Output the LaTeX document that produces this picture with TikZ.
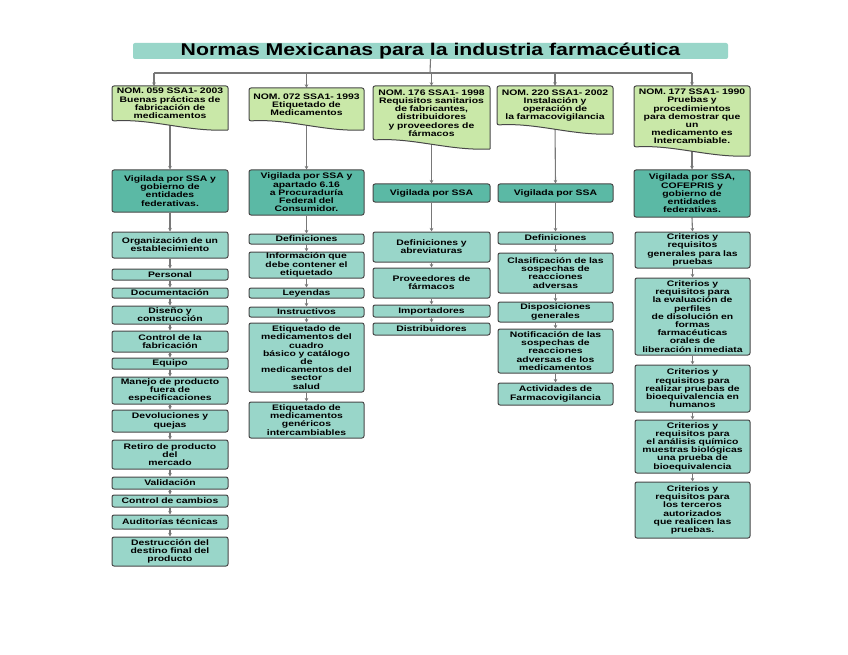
\documentclass[tikz,border=0pt]{standalone}
\usepackage{fontspec}
\setmainfont{Liberation Sans}
\newfontfamily\boxfont[FakeStretch=1.3]{Liberation Sans}
\newfontfamily\titlefont[FakeStretch=1.25]{Liberation Sans}
\usetikzlibrary{arrows.meta,calc}
\pgfdeclarelayer{back}
\pgfdeclarelayer{bg}
\pgfsetlayers{back,bg,main}
\definecolor{lightc}{RGB}{153,214,201}
\definecolor{darkc}{RGB}{91,185,165}
\definecolor{docc}{RGB}{201,232,168}
\definecolor{bordc}{RGB}{72,72,72}
\definecolor{linec}{RGB}{120,120,120}
\tikzset{
  box/.style={draw=bordc, line width=1pt, rounded corners=2pt, fill=lightc, align=center, inner sep=0pt,
    font=\boxfont\bfseries\fontsize{8}{8.2}\selectfont},
  vbox/.style={box, fill=darkc},
  doctext/.style={draw=none, align=center, inner sep=0pt, font=\boxfont\bfseries\fontsize{8}{8.2}\selectfont},
  docshape/.style={draw=bordc, line width=1pt, fill=docc, rounded corners=2pt},
  titlebox/.style={fill=lightc, rounded corners=2pt, inner sep=0pt, font=\titlefont\bfseries\fontsize{17}{17}\selectfont},
  conn/.style={draw=linec, line width=1.1pt},
  arr/.style={conn, -{Stealth[length=3.5pt,width=3.5pt]}},
}
% name, x0, y0, x1, y1, style, text
\newcommand\mybox[7]{%
  \pgfmathsetmacro\bw{#4-#2}\pgfmathsetmacro\bh{#5-#3}\pgfmathsetmacro\tw{#4-#2-4}%
  \node[#6, minimum width=\bw pt, minimum height=\bh pt, text width=\tw pt] (#1) at ({(#2+#4)/2},{(#3+#5)/2}) {#7};}
% name, x0, y0, x1, y1 (lowest), text
\newcommand\mydoc[6]{%
  \pgfmathsetmacro\dw{#4-#2}\pgfmathsetmacro\tw{#4-#2-4}\pgfmathsetmacro\dh{#5-9-#3}%
  \path[docshape] (#4,#5) -- (#4,#3) -- (#2,#3) -- (#2,{#5-9})
    .. controls ({#2+0.35*\dw},{#5-11.5}) and ({#2+0.65*\dw},{#5+2}) .. (#4,#5);
  \node[doctext, minimum width=\dw pt, minimum height=\dh pt, text width=\tw pt] (#1) at ({(#2+#4)/2},{(#3+#5-9)/2}) {#6};}
\begin{document}
\begin{tikzpicture}[x=1pt,y=-1pt]
\begin{pgfonlayer}{back}
\useasboundingbox[fill=white] (0,0) rectangle (848,655);
\end{pgfonlayer}
\node[titlebox, minimum width=595pt, minimum height=16pt] (title) at (430.5,51) {Normas Mexicanas para la industria farmacéutica};
\coordinate (bus) at (430,73);
\coordinate (d1in) at (154,86);
% documents
\mydoc{doc1}{112}{86}{228}{130}{NOM. 059 SSA1- 2003\\Buenas prácticas de\\fabricación de\\medicamentos}
\mydoc{doc2}{249}{88}{364}{130}{NOM. 072 SSA1- 1993\\Etiquetado de\\Medicamentos}
\mydoc{doc3}{373}{86}{490}{149}{NOM. 176 SSA1- 1998\\Requisitos sanitarios\\de fabricantes,\\distribuidores\\y proveedores de\\fármacos}
\mydoc{doc4}{497}{86}{613}{134}{NOM. 220 SSA1- 2002\\Instalación y\\operación de\\la farmacovigilancia}
\mydoc{doc5}{634}{86}{750}{156}{NOM. 177 SSA1- 1990\\Pruebas y\\procedimientos\\para demostrar que\\un\\medicamento es\\Intercambiable.}
% vigilance
\mybox{v1}{112}{170}{228}{212}{vbox}{Vigilada por SSA y\\gobierno de\\entidades\\federativas.}
\mybox{v2}{249}{170}{364}{215}{vbox}{Vigilada por SSA y\\apartado 6.16\\a Procuraduría\\Federal del\\Consumidor.}
\mybox{v3}{373}{184}{490}{202}{vbox}{Vigilada por SSA}
\mybox{v4}{498}{184}{613}{202}{vbox}{Vigilada por SSA}
\mybox{v5}{634}{170}{750}{217}{vbox}{Vigilada por SSA,\\COFEPRIS y\\gobierno de\\entidades\\federativas.}
% column 1
\mybox{c1a}{112}{232}{228}{258}{box}{Organización de un\\establecimiento}
\mybox{c1b}{112}{269}{228}{280}{box}{Personal}
\mybox{c1c}{112}{288}{228}{298}{box}{Documentación}
\mybox{c1d}{112}{306}{228}{324}{box}{Diseño y\\construcción}
\mybox{c1e}{112}{331}{228}{352}{box}{Control de la\\fabricación}
\mybox{c1f}{112}{358}{228}{369}{box}{Equipo}
\mybox{c1g}{112}{377}{228}{404}{box}{Manejo de producto\\fuera de\\especificaciones}
\mybox{c1h}{112}{410}{228}{432}{box}{Devoluciones y\\quejas}
\mybox{c1i}{112}{440}{228}{469}{box}{Retiro de producto\\del\\mercado}
\mybox{c1j}{112}{477}{228}{489}{box}{Validación}
\mybox{c1k}{112}{495}{228}{507}{box}{Control de cambios}
\mybox{c1l}{112}{515}{228}{529}{box}{Auditorías técnicas}
\mybox{c1m}{112}{537}{228}{566}{box}{Destrucción del\\destino final del\\producto}
% column 2
\mybox{c2a}{249}{234}{364}{244}{box}{Definiciones}
\mybox{c2b}{249}{252}{364}{278}{box}{Información que\\debe contener el\\etiquetado}
\mybox{c2c}{249}{288}{364}{298}{box}{Leyendas}
\mybox{c2d}{249}{307}{364}{317}{box}{Instructivos}
\mybox{c2e}{249}{323}{364}{392}{box}{Etiquetado de\\medicamentos del\\cuadro\\básico y catálogo\\de\\medicamentos del\\sector\\salud}
\mybox{c2f}{249}{402}{364}{438}{box}{Etiquetado de\\medicamentos\\genéricos\\intercambiables}
% column 3
\mybox{c3a}{373}{232}{490}{262}{box}{Definiciones y\\abreviaturas}
\mybox{c3b}{373}{268}{490}{298}{box}{Proveedores de\\fármacos}
\mybox{c3c}{373}{305}{490}{317}{box}{Importadores}
\mybox{c3d}{373}{323}{490}{335}{box}{Distribuidores}
% column 4
\mybox{c4a}{498}{232}{613}{244}{box}{Definiciones}
\mybox{c4b}{498}{253}{613}{293}{box}{Clasificación de las\\sospechas de\\reacciones\\adversas}
\mybox{c4c}{498}{302}{613}{322}{box}{Disposiciones\\generales}
\mybox{c4d}{498}{329}{613}{373}{box}{Notificación de las\\sospechas de\\reacciones\\adversas de los\\medicamentos}
\mybox{c4e}{498}{383}{613}{405}{box}{Actividades de\\Farmacovigilancia}
% column 5
\mybox{c5a}{635}{232}{750}{268}{box}{Criterios y\\requisitos\\generales para las\\pruebas}
\mybox{c5b}{635}{278}{750}{355}{box}{Criterios y\\requisitos para\\la evaluación de\\perfiles\\de disolución en\\formas\\farmacéuticas\\orales de\\liberación inmediata}
\mybox{c5c}{635}{365}{750}{412}{box}{Criterios y\\requisitos para\\realizar pruebas de\\bioequivalencia en\\humanos}
\mybox{c5d}{635}{420}{750}{473}{box}{Criterios y\\requisitos para\\el análisis químico\\muestras biológicas\\una prueba de\\bioequivalencia}
\mybox{c5e}{635}{482}{750}{538}{box}{Criterios y\\requisitos para\\los terceros\\autorizados\\que realicen las\\pruebas.}
% connectors
\begin{pgfonlayer}{bg}
\draw[conn] (title.south) -- (bus);
\draw[conn] (bus -| d1in) -- (bus -| doc5.north);
\draw[arr] (bus -| d1in) -- (d1in);
\foreach \d in {doc2,doc3,doc4,doc5} \draw[arr] (bus -| \d.north) -- (\d.north);
\foreach \a/\b in {doc1/v1,v1/c1a,c1a/c1b,c1b/c1c,c1c/c1d,c1d/c1e,c1e/c1f,c1f/c1g,c1g/c1h,c1h/c1i,c1i/c1j,c1j/c1k,c1k/c1l,c1l/c1m,
  doc2/v2,v2/c2a,c2a/c2b,c2b/c2c,c2c/c2d,c2d/c2e,c2e/c2f,
  doc3/v3,v3/c3a,c3a/c3b,c3b/c3c,c3c/c3d,
  doc4/v4,v4/c4a,c4a/c4b,c4b/c4c,c4c/c4d,c4d/c4e,
  doc5/v5,v5/c5a,c5a/c5b,c5b/c5c,c5c/c5d,c5d/c5e}
  \draw[arr] (\a.south) -- (\b.north);
\end{pgfonlayer}
\end{tikzpicture}
\end{document}
